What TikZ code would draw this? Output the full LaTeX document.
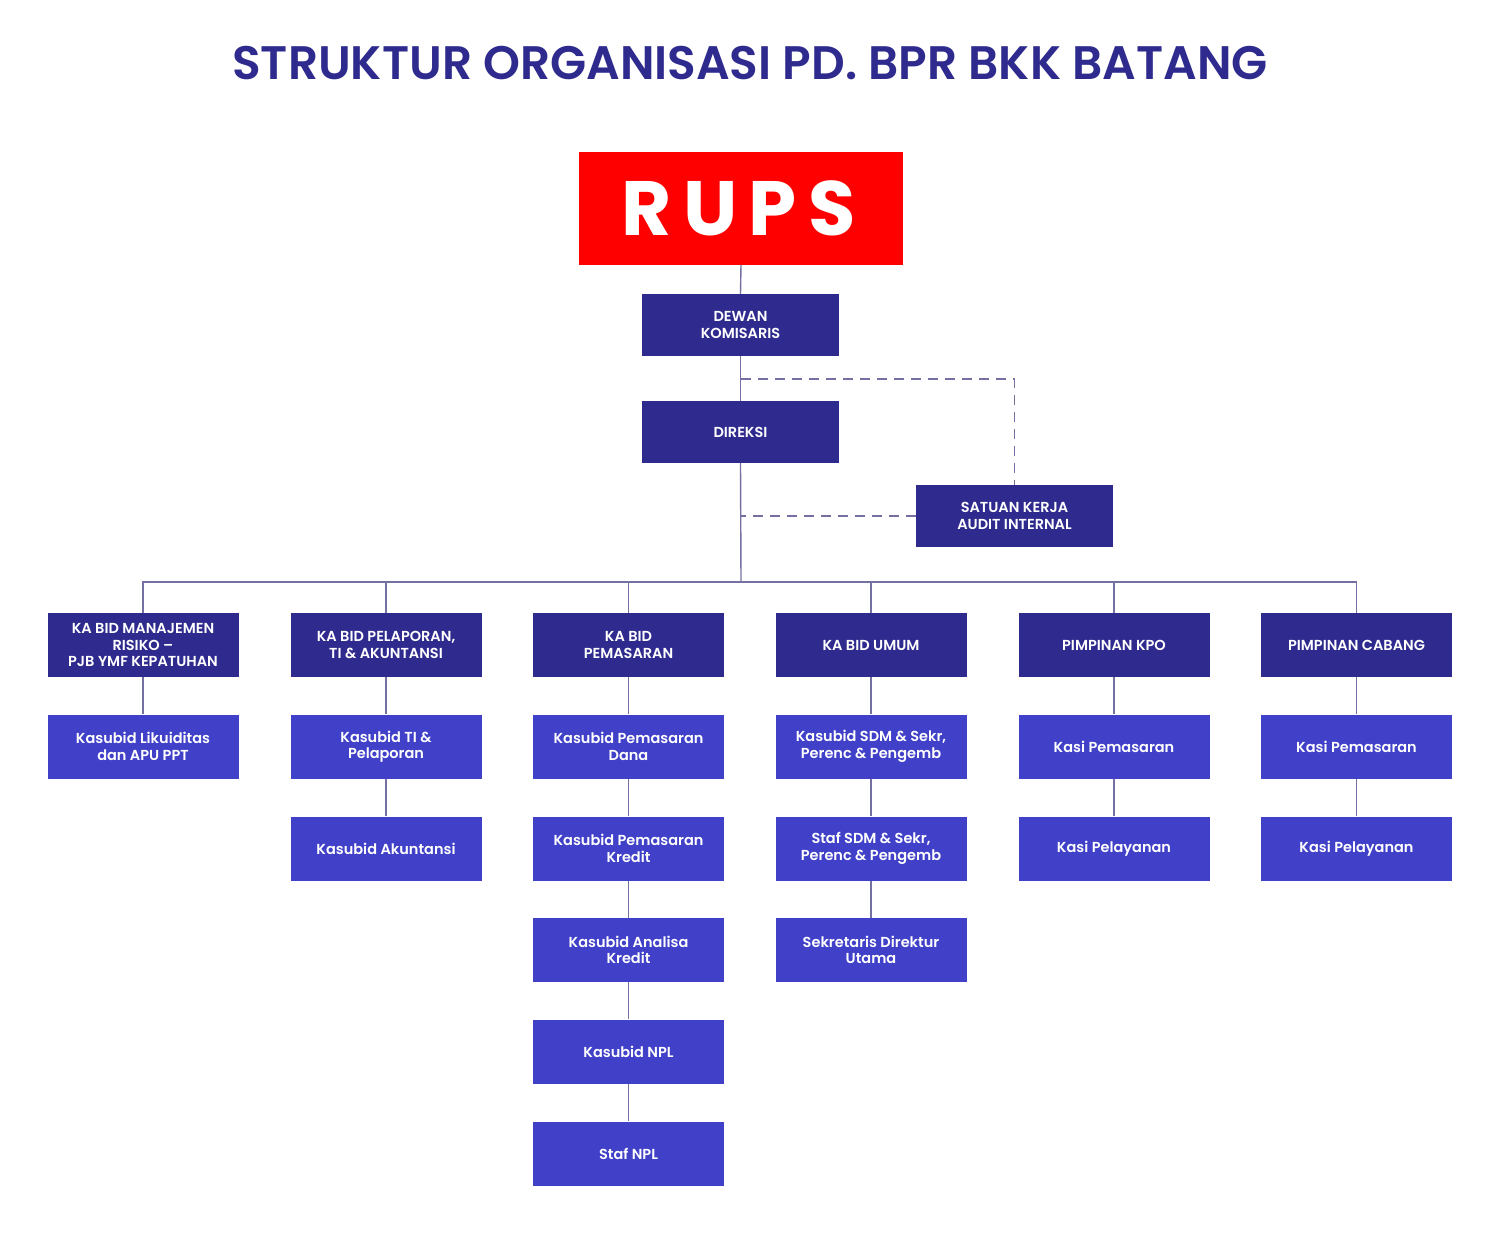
\documentclass[tikz,border=0pt]{standalone}
\usepackage{fontspec}
\setmainfont{Poppins}[BoldFont={Poppins SemiBold}]
\newfontfamily\heavyfont{Poppins Bold}
\definecolor{navy}{HTML}{2F2B8E}
\definecolor{bluebox}{HTML}{4040C8}
\definecolor{conn}{HTML}{7471A2}
\definecolor{rupsred}{HTML}{FF0000}
\begin{document}
\begin{tikzpicture}[x=1pt,y=-1pt,
  box/.style={minimum width=191pt, minimum height=64pt, inner sep=0pt, align=center, text=white,
    font=\fontsize{14.5}{16.5}\selectfont\bfseries},
  lvlone/.style={box, fill=navy},
  lvltwo/.style={box, fill=bluebox},
  topbox/.style={box, fill=navy, minimum width=197pt, minimum height=62pt},
  conline/.style={draw=conn, line width=1.4pt},
  dashline/.style={draw=conn, line width=1.4pt, dash pattern=on 10pt off 7pt}]
\useasboundingbox (0,0) rectangle (1500,1239);
\node (title) at (750,63) {\fontsize{47}{50}\selectfont\bfseries\color{navy}STRUKTUR ORGANISASI PD. BPR BKK BATANG};
\node[fill=rupsred, minimum width=324pt, minimum height=113pt, inner sep=0pt, text=white,
  font=\fontsize{77}{80}\heavyfont] (rups) at (741,208.5) {\addfontfeature{LetterSpace=15}RUPS\hspace*{0.06em}};
\node[topbox] (dewan) at (740.5,325) {DEWAN\\KOMISARIS};
\node[topbox] (direksi) at (740.5,432) {DIREKSI};
\node[topbox] (satuan) at (1014.5,516) {SATUAN KERJA\\AUDIT INTERNAL};
% level 1
\node[lvlone] (a1) at (143,645) {KA BID MANAJEMEN\\RISIKO –\\PJB YMF KEPATUHAN};
\node[lvlone] (b1) at (386,645) {KA BID PELAPORAN,\\TI \& AKUNTANSI};
\node[lvlone] (c1) at (628.5,645) {KA BID\\PEMASARAN};
\node[lvlone] (d1) at (871,645) {KA BID UMUM};
\node[lvlone] (e1) at (1114,645) {PIMPINAN KPO};
\node[lvlone] (f1) at (1356.5,645) {PIMPINAN CABANG};
% level 2
\node[lvltwo] (a2) at (143,746.5) {Kasubid Likuiditas\\dan APU PPT};
\node[lvltwo] (b2) at (386,746.5) {Kasubid TI \&\\Pelaporan};
\node[lvltwo] (c2) at (628.5,746.5) {Kasubid Pemasaran\\Dana};
\node[lvltwo] (d2) at (871,746.5) {Kasubid SDM \& Sekr,\\Perenc \& Pengemb};
\node[lvltwo] (e2) at (1114,746.5) {Kasi Pemasaran};
\node[lvltwo] (f2) at (1356.5,746.5) {Kasi Pemasaran};
% level 3
\node[lvltwo] (b3) at (386,848.5) {Kasubid Akuntansi};
\node[lvltwo] (c3) at (628.5,848.5) {Kasubid Pemasaran\\Kredit};
\node[lvltwo] (d3) at (871,848.5) {Staf SDM \& Sekr,\\Perenc \& Pengemb};
\node[lvltwo] (e3) at (1114,848.5) {Kasi Pelayanan};
\node[lvltwo] (f3) at (1356.5,848.5) {Kasi Pelayanan};
% level 4-6
\node[lvltwo] (c4) at (628.5,950) {Kasubid Analisa\\Kredit};
\node[lvltwo] (d4) at (871,950) {Sekretaris Direktur\\Utama};
\node[lvltwo] (c5) at (628.5,1051.5) {Kasubid NPL};
\node[lvltwo] (c6) at (628.5,1153.5) {Staf NPL};
% connectors
\coordinate (bus) at (741,582);
\coordinate (dj) at (741,379);
\path[conline] (rups.south) -- (dewan.north);
\path[conline] (dewan.south) -- (direksi.north);
\path[conline] (direksi.south) -- (bus);
\path[conline] (a1.north) |- (bus) -| (f1.north);
\foreach \n in {b1,c1,d1,e1} \path[conline] (\n.north) -- (\n.north |- bus);
\path[conline] (a1) -- (a2);
\path[conline] (b1) -- (b2); \path[conline] (b2) -- (b3);
\path[conline] (c1) -- (c2); \path[conline] (c2) -- (c3); \path[conline] (c3) -- (c4);
\path[conline] (c4) -- (c5); \path[conline] (c5) -- (c6);
\path[conline] (d1) -- (d2); \path[conline] (d2) -- (d3); \path[conline] (d3) -- (d4);
\path[conline] (e1) -- (e2); \path[conline] (e2) -- (e3);
\path[conline] (f1) -- (f2); \path[conline] (f2) -- (f3);
\path[dashline] (dj) -- (satuan.north |- dj) -- (satuan.north);
\path[dashline] (satuan.west) -- (satuan.west -| bus);
\end{tikzpicture}
\end{document}
